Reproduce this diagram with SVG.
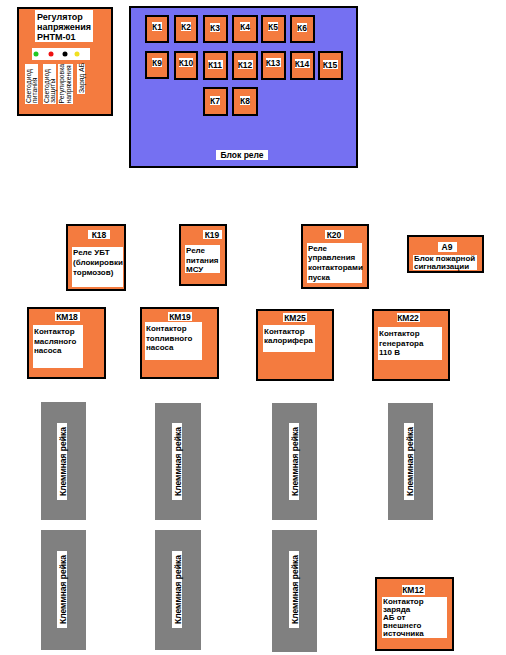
<svg xmlns="http://www.w3.org/2000/svg" width="506" height="655" viewBox="0 0 506 655">
<style>
text{font-family:"Liberation Sans",Arial,sans-serif;font-weight:bold;fill:#000}
.o{fill:#F47B3F;stroke:#000;stroke-width:2}
.w{fill:#fff}
.g{fill:#808080}
.t{font-size:9px}
.s{font-size:8px}
.c{text-anchor:middle}
.k{font-size:8.5px;text-anchor:middle}
.r{font-size:6.8px;font-weight:normal}
</style>
<rect width="506" height="655" fill="#fff"/>

<g id="regulator">
<rect class="o" x="18" y="8" width="94" height="107"/>
<rect class="w" x="35" y="10" width="58" height="32"/>
<text class="t" x="37" y="20">Регулятор</text>
<text class="t" x="37" y="30">напряжения</text>
<text class="t" x="37" y="40">РНТМ-01</text>
<rect class="w" x="32" y="48" width="58" height="12"/>
<circle cx="36" cy="54" r="2.5" fill="#22c922"/>
<circle cx="51" cy="54" r="2.5" fill="#ee1111"/>
<circle cx="65" cy="54" r="2.5" fill="#000"/>
<circle cx="77" cy="54" r="2.5" fill="#f0e020"/>
<rect class="w" x="25" y="64" width="13" height="40"/>
<rect class="w" x="43" y="64" width="13" height="40"/>
<rect class="w" x="58" y="64" width="15" height="40"/>
<rect class="w" x="77" y="64" width="8" height="30"/>
<text class="r" transform="translate(30.5,103) rotate(-90)">Светодиод</text>
<text class="r" transform="translate(37,103) rotate(-90)">питания</text>
<text class="r" transform="translate(48.5,103) rotate(-90)">Светодиод</text>
<text class="r" transform="translate(55,103) rotate(-90)">защиты</text>
<text class="r" transform="translate(64,103.5) rotate(-90)">Регулировка</text>
<text class="r" transform="translate(71,103.5) rotate(-90)">напряжения</text>
<text class="r" transform="translate(83.5,93) rotate(-90)">Заряд АБ</text>
</g>

<g id="relay-block">
<rect x="130" y="7" width="227" height="160" fill="#7570F2" stroke="#000" stroke-width="2"/>
<rect class="w" x="216" y="150" width="52" height="10"/>
<text class="k" x="242" y="158">Блок реле</text>
</g>

<g id="K1"><rect class="o" x="146" y="16" width="22" height="26"/><rect class="w" x="152" y="22" width="10" height="9"/><text class="k" x="157" y="30">К1</text></g>
<g id="K2"><rect class="o" x="175" y="16" width="22" height="26"/><rect class="w" x="181" y="22" width="10" height="9"/><text class="k" x="186" y="30">К2</text></g>
<g id="K3"><rect class="o" x="204" y="16" width="23" height="26"/><rect class="w" x="210" y="23" width="10" height="9"/><text class="k" x="215" y="31">К3</text></g>
<g id="K4"><rect class="o" x="233" y="16" width="24" height="26"/><rect class="w" x="240" y="22" width="10" height="9"/><text class="k" x="245" y="30">К4</text></g>
<g id="K5"><rect class="o" x="262" y="16" width="23" height="26"/><rect class="w" x="268" y="22" width="10" height="9"/><text class="k" x="273" y="30">К5</text></g>
<g id="K6"><rect class="o" x="291" y="16" width="23" height="26"/><rect class="w" x="297" y="23" width="10" height="9"/><text class="k" x="302" y="31">К6</text></g>

<g id="K9"><rect class="o" x="146" y="52" width="22" height="26"/><rect class="w" x="152" y="58" width="10" height="9"/><text class="k" x="157" y="66">К9</text></g>
<g id="K10"><rect class="o" x="175" y="52" width="22" height="27"/><rect class="w" x="179" y="58" width="14" height="9"/><text class="k" x="186" y="66">К10</text></g>
<g id="K11"><rect class="o" x="204" y="52" width="23" height="27"/><rect class="w" x="208" y="60" width="15" height="9"/><text class="k" x="215" y="68">К11</text></g>
<g id="K12"><rect class="o" x="233" y="52" width="24" height="27"/><rect class="w" x="238" y="60" width="15" height="9"/><text class="k" x="245" y="68">К12</text></g>
<g id="K13"><rect class="o" x="262" y="52" width="23" height="27"/><rect class="w" x="266" y="58" width="15" height="9"/><text class="k" x="273" y="66">К13</text></g>
<g id="K14"><rect class="o" x="291" y="52" width="23" height="27"/><rect class="w" x="295" y="59" width="15" height="9"/><text class="k" x="302" y="67">К14</text></g>
<g id="K15"><rect class="o" x="319" y="52" width="23" height="27"/><rect class="w" x="323" y="60" width="15" height="9"/><text class="k" x="330" y="68">К15</text></g>

<g id="K7"><rect class="o" x="204" y="88" width="23" height="27"/><rect class="w" x="210" y="96" width="10" height="9"/><text class="k" x="215" y="104">К7</text></g>
<g id="K8"><rect class="o" x="233" y="88" width="24" height="27"/><rect class="w" x="240" y="96" width="10" height="9"/><text class="k" x="245" y="104">К8</text></g>

<g id="K18">
<rect class="o" x="67" y="225" width="58" height="65"/>
<rect class="w" x="88" y="230" width="22" height="9"/>
<text class="k" x="99" y="238">К18</text>
<rect class="w" x="72" y="247" width="51" height="40"/>
<text class="s" x="73" y="255">Реле УБТ</text>
<text class="s" x="73" y="265">(блокировки</text>
<text class="s" x="73" y="275">тормозов)</text>
</g>

<g id="K19">
<rect class="o" x="180" y="225" width="46" height="60"/>
<rect class="w" x="203" y="230" width="19" height="9"/>
<text class="k" x="212" y="238">К19</text>
<rect class="w" x="185" y="245" width="35" height="28"/>
<text class="s" x="186" y="253">Реле</text>
<text class="s" x="186" y="263">питания</text>
<text class="s" x="186" y="272">МСУ</text>
</g>

<g id="K20">
<rect class="o" x="302" y="225" width="66" height="63"/>
<rect class="w" x="325" y="230" width="19" height="9"/>
<text class="k" x="334" y="238">К20</text>
<rect class="w" x="307" y="243" width="55" height="40"/>
<text class="s" x="308" y="251">Реле</text>
<text class="s" x="308" y="260">управления</text>
<text class="s" x="308" y="270">контакторами</text>
<text class="s" x="308" y="280">пуска</text>
</g>

<g id="A9">
<rect class="o" x="408" y="236" width="75" height="36"/>
<rect class="w" x="438" y="242" width="19" height="10"/>
<text class="k" x="447" y="250">А9</text>
<rect class="w" x="413" y="255" width="64" height="15"/>
<text class="s" x="414" y="261">Блок пожарной</text>
<text class="s" x="414" y="269">сигнализации</text>
</g>

<g id="KM18">
<rect class="o" x="28" y="308" width="77" height="70"/>
<rect class="w" x="55" y="312" width="25" height="9"/>
<text class="k" x="67" y="320">КМ18</text>
<rect class="w" x="33" y="325" width="50" height="43"/>
<text class="s" x="34" y="334">Контактор</text>
<text class="s" x="34" y="344">масляного</text>
<text class="s" x="34" y="353">насоса</text>
</g>

<g id="KM19">
<rect class="o" x="141" y="308" width="77" height="70"/>
<rect class="w" x="168" y="312" width="24" height="9"/>
<text class="k" x="180" y="320">КМ19</text>
<rect class="w" x="145" y="322" width="57" height="38"/>
<text class="s" x="146" y="331">Контактор</text>
<text class="s" x="146" y="341">топливного</text>
<text class="s" x="146" y="350">насоса</text>
</g>

<g id="KM25">
<rect class="o" x="257" y="310" width="76" height="70"/>
<rect class="w" x="283" y="313" width="24" height="9"/>
<text class="k" x="295" y="321">КМ25</text>
<rect class="w" x="263" y="325" width="52" height="27"/>
<text class="s" x="264" y="334">Контактор</text>
<text class="s" x="264" y="343">калорифера</text>
</g>

<g id="KM22">
<rect class="o" x="373" y="310" width="76" height="70"/>
<rect class="w" x="397" y="313" width="23" height="9"/>
<text class="k" x="408" y="321">КМ22</text>
<rect class="w" x="378" y="327" width="64" height="33"/>
<text class="s" x="379" y="336">Контактор</text>
<text class="s" x="379" y="346">генератора</text>
<text class="s" x="379" y="355">110 В</text>
</g>

<g id="strip1"><rect class="g" x="41" y="402" width="45" height="118"/><rect class="w" x="57" y="423" width="10" height="77"/><text class="k" transform="translate(65.5,461.5) rotate(-90)">Клеммная рейка</text></g>
<g id="strip2"><rect class="g" x="155" y="403" width="46" height="117"/><rect class="w" x="172" y="423" width="10" height="77"/><text class="k" transform="translate(180.5,461.5) rotate(-90)">Клеммная рейка</text></g>
<g id="strip3"><rect class="g" x="272" y="403" width="45" height="117"/><rect class="w" x="289" y="423" width="10" height="77"/><text class="k" transform="translate(297.5,461.5) rotate(-90)">Клеммная рейка</text></g>
<g id="strip4"><rect class="g" x="388" y="403" width="45" height="117"/><rect class="w" x="404" y="423" width="10" height="77"/><text class="k" transform="translate(412.5,461.5) rotate(-90)">Клеммная рейка</text></g>
<g id="strip5"><rect class="g" x="41" y="530" width="45" height="120"/><rect class="w" x="57" y="551" width="10" height="77"/><text class="k" transform="translate(65.5,589.5) rotate(-90)">Клеммная рейка</text></g>
<g id="strip6"><rect class="g" x="155" y="530" width="46" height="120"/><rect class="w" x="172" y="551" width="10" height="77"/><text class="k" transform="translate(180.5,589.5) rotate(-90)">Клеммная рейка</text></g>
<g id="strip7"><rect class="g" x="272" y="530" width="45" height="122"/><rect class="w" x="289" y="551" width="10" height="77"/><text class="k" transform="translate(297.5,589.5) rotate(-90)">Клеммная рейка</text></g>

<g id="KM12">
<rect class="o" x="376" y="578" width="77" height="72"/>
<rect class="w" x="402" y="585" width="23" height="10"/>
<text class="k" x="413" y="593">КМ12</text>
<rect class="w" x="382" y="597" width="65" height="41"/>
<g style="font-size:8px">
<text x="383" y="604">Контактор</text>
<text x="383" y="612">заряда</text>
<text x="383" y="620">АБ от</text>
<text x="383" y="628">внешнего</text>
<text x="383" y="636">источника</text>
</g>
</g>
</svg>
